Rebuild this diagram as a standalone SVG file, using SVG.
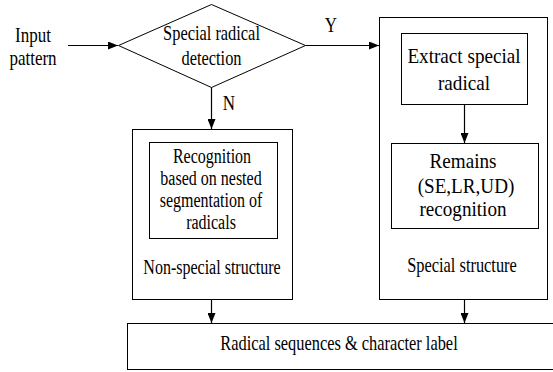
<svg xmlns="http://www.w3.org/2000/svg" width="553" height="372" viewBox="0 0 553 372">
<defs>
<marker id="ah" viewBox="0 0 10 8" refX="10" refY="4" markerWidth="10" markerHeight="8" markerUnits="userSpaceOnUse" orient="auto">
<path d="M0,0 L10,4 L0,8 Z" fill="#000"/>
</marker>
</defs>
<style>
.b{fill:#fff;stroke:#000;stroke-width:1}
.c{stroke:#000;stroke-width:1.2;fill:none;marker-end:url(#ah)}
</style>
<rect width="553" height="372" fill="#fff"/>
<g font-family="'Liberation Serif', 'Times New Roman', serif" font-size="20" text-anchor="middle" fill="#000">
<g id="input">
<text transform="translate(33,42) scale(0.85,1)">Input</text>
<text transform="translate(33,65) scale(0.85,1)">pattern</text>
</g>
<g id="decision">
<polygon class="b" points="118.5,45.5 211.5,4.5 305.5,45.5 211.5,87.5"/>
<text transform="translate(211.5,40) scale(0.82,1)">Special radical</text>
<text transform="translate(211.5,65) scale(0.82,1)">detection</text>
</g>
<g id="nonspecial">
<rect class="b" x="132.5" y="129.5" width="160" height="170"/>
<text transform="translate(212,274) scale(0.8,1)">Non-special structure</text>
</g>
<g id="nested">
<rect class="b" x="149.5" y="142.5" width="128" height="96"/>
<text transform="translate(212,163) scale(0.8,1)">Recognition</text>
<text transform="translate(211,185) scale(0.8,1)">based on nested</text>
<text transform="translate(211,207) scale(0.8,1)">segmentation of</text>
<text transform="translate(211,229) scale(0.8,1)">radicals</text>
</g>
<g id="special">
<rect class="b" x="379.5" y="17.5" width="168" height="282"/>
<text transform="translate(462,272) scale(0.82,1)">Special structure</text>
</g>
<g id="extract" font-size="22">
<rect class="b" x="401.5" y="33.5" width="126" height="71"/>
<text transform="translate(464,63) scale(0.87,1)">Extract special</text>
<text transform="translate(464,90) scale(0.87,1)">radical</text>
</g>
<g id="remains" font-size="22">
<rect class="b" x="391.5" y="143.5" width="147" height="85"/>
<text transform="translate(463,168) scale(0.87,1)">Remains</text>
<text transform="translate(466,193) scale(0.87,1)">(SE,LR,UD)</text>
<text transform="translate(463,216) scale(0.87,1)">recognition</text>
</g>
<g id="output">
<rect class="b" x="127.5" y="323.5" width="440" height="46"/>
<text transform="translate(339,350) scale(0.82,1)">Radical sequences &amp; character label</text>
</g>
<g id="connectors">
<line class="c" x1="68" y1="45.5" x2="118" y2="45.5"/>
<line class="c" x1="305.5" y1="45.5" x2="379" y2="45.5"/>
<line class="c" x1="211.5" y1="87.5" x2="211.5" y2="129"/>
<line class="c" x1="464.5" y1="104.5" x2="464.5" y2="143"/>
<line class="c" x1="211.5" y1="299.5" x2="211.5" y2="323"/>
<line class="c" x1="464.5" y1="299.5" x2="464.5" y2="323"/>
<text transform="translate(331,32) scale(0.85,1)">Y</text>
<text transform="translate(229,110) scale(0.85,1)">N</text>
</g>
</g>
</svg>
